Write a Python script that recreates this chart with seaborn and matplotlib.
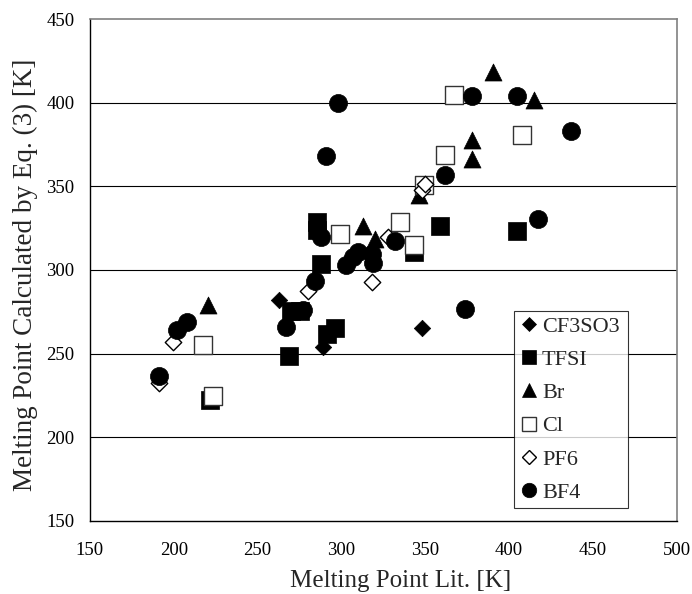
import pandas as pd
import matplotlib
matplotlib.use('Agg')
import matplotlib.pyplot as plt
import seaborn as sns
from matplotlib.lines import Line2D

# values (Lit. mp, calculated mp)
cf3so3_x = [262.5, 289, 348]
cf3so3_y = [282, 254, 265.5]
tfsi_x = [285.5, 285.5, 288, 270, 275, 291.5, 296, 269, 221.5, 359, 405, 343]
tfsi_y = [328.5, 324, 303.5, 275.5, 275.5, 262, 265.5, 248.5, 222.5, 326, 323, 311]
br_x = [220.5, 313, 320, 390.5, 415, 378, 378, 346.5]
br_y = [279, 326.5, 318.5, 418.5, 401.5, 377.5, 366.5, 345]
cl_x = [217.5, 223.5, 299, 335, 343, 367, 407.5, 361.5, 349]
cl_y = [255, 224.5, 321.5, 328.5, 315, 404.5, 380.5, 369, 350.5]
pf6_x = [199.5, 191, 280, 318, 328, 348, 350]
pf6_y = [257, 232.5, 287.5, 293, 320, 348, 351.5]
bf4_x = [191, 202, 208, 267, 277, 284, 288, 303, 307, 310, 318, 319, 332,
         362, 378, 404.5, 437, 417.5, 373.5, 298, 290.5]
bf4_y = [236.5, 264, 269, 266, 276, 293.5, 319.5, 303, 308, 310.5, 309.5, 304, 317.5,
         357, 404, 404, 383, 330.5, 276.5, 400, 368]

series = ['CF3SO3', 'TFSI', 'Br', 'Cl', 'PF6', 'BF4']
xs = [cf3so3_x, tfsi_x, br_x, cl_x, pf6_x, bf4_x]
ys = [cf3so3_y, tfsi_y, br_y, cl_y, pf6_y, bf4_y]

rows = []
for name, x, y in zip(series, xs, ys):
    for a, b in zip(x, y):
        rows.append({'anion': name, 'lit': a, 'calc': b})
df = pd.DataFrame(rows)

style = {
    'CF3SO3': dict(marker='D', s=70, fc='black', ec='black', lw=0.5),
    'TFSI': dict(marker='s', s=150, fc='black', ec='black', lw=0.5),
    'Br': dict(marker='^', s=150, fc='black', ec='black', lw=0.5),
    'Cl': dict(marker='s', s=150, fc='white', ec='#333333', lw=1.0),
    'PF6': dict(marker='D', s=70, fc='white', ec='black', lw=1.0),
    'BF4': dict(marker='o', s=170, fc='black', ec='black', lw=0.5),
}

sns.set_style('white')
plt.rcParams['font.family'] = ['Liberation Serif', 'DejaVu Serif']

fig = plt.figure(figsize=(6.92, 5.94), dpi=100)
ax = fig.add_axes([0.130, 0.123, 0.848, 0.845])

for y in [200, 250, 300, 350, 400]:
    ax.axhline(y, color='black', lw=0.8, zorder=0)

for name in series:
    st = style[name]
    sns.scatterplot(data=df[df['anion'] == name], x='lit', y='calc', ax=ax,
                    marker=st['marker'], s=st['s'], color=st['fc'],
                    edgecolor=st['ec'], linewidth=st['lw'], legend=False, zorder=3)

ax.set_xlim(150, 500)
ax.set_ylim(150, 450)
ax.set_xticks(range(150, 501, 50))
ax.set_yticks(range(150, 451, 50))
ax.tick_params(direction='in', length=5, width=0.8, labelsize=13.5, colors='black')
ax.tick_params(axis='x', pad=15)
ax.tick_params(axis='y', pad=11)
for side in ['left', 'bottom']:
    ax.spines[side].set_color('black')
    ax.spines[side].set_linewidth(1.0)
for side in ['top', 'right']:
    ax.spines[side].set_color('#808080')
    ax.spines[side].set_linewidth(1.2)

ax.set_xlabel('Melting Point Lit. [K]', fontsize=18)
ax.set_ylabel('Melting Point Calculated by Eq. (3) [K]', fontsize=19.5)
ax.xaxis.set_label_coords(0.53, -0.097)
ax.yaxis.set_label_coords(-0.088, 0.49)

handles = []
for name in series:
    st = style[name]
    handles.append(Line2D([], [], linestyle='none', marker=st['marker'],
                          markersize=(st['s'] ** 0.5) * 0.8, markerfacecolor=st['fc'],
                          markeredgecolor=st['ec'], markeredgewidth=st['lw'], label=name))
leg = ax.legend(handles=handles, loc='lower left', bbox_to_anchor=(0.723, 0.025, 0.194, 0.402),
                mode='expand', fontsize=16, frameon=True, fancybox=False, borderpad=0.25,
                handlelength=0.8, handletextpad=0.2, labelspacing=0.57, borderaxespad=0)
leg.get_frame().set_edgecolor('black')
leg.get_frame().set_linewidth(0.8)
leg.set_zorder(5)

fig.savefig('out.png', dpi=100)
